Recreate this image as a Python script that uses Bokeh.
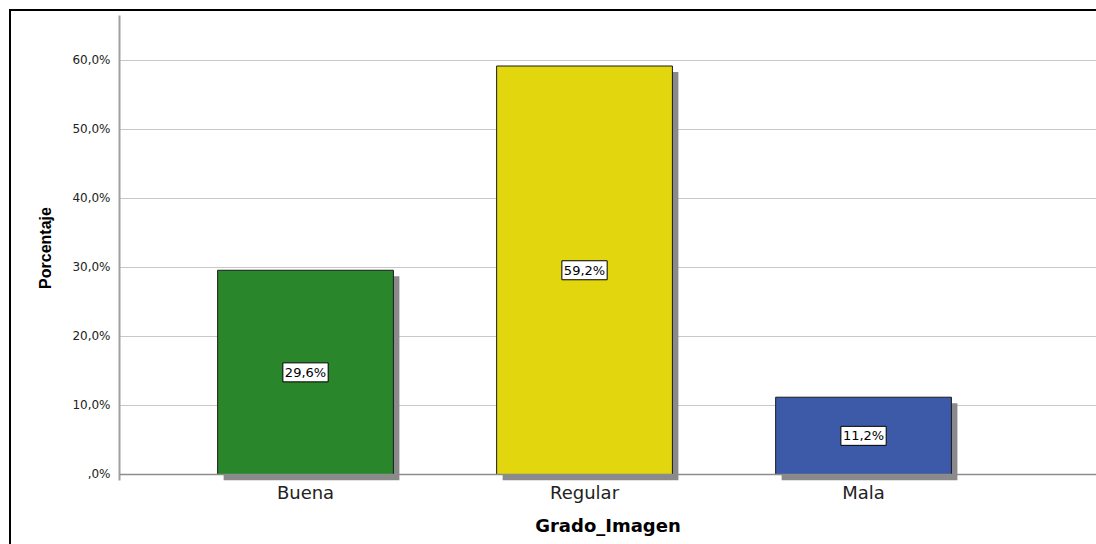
from bokeh.plotting import figure
from bokeh.models import Range1d, FixedTicker, ColumnDataSource, Span
from bokeh.core.properties import value
from bokeh.embed import file_html
from bokeh.resources import INLINE

categories = ["Buena", "Regular", "Mala"]
percentages = [29.6, 59.2, 11.2]
colors = ["#2a862a", "#e2d70e", "#3c5aa8"]
label_texts = ["29,6%", "59,2%", "11,2%"]
y_ticks = [0, 10, 20, 30, 40, 50, 60]
y_tick_labels = [",0%", "10,0%", "20,0%", "30,0%", "40,0%", "50,0%", "60,0%"]

idx = list(range(1, len(categories) + 1))
dx = 0.0215
dy = 0.87

src = ColumnDataSource(dict(
    x=idx,
    top=percentages,
    color=colors,
    xs=[i + dx for i in idx],
    stop=[v - dy for v in percentages],
    mid=[v / 2 for v in percentages],
    txt=label_texts,
))

p = figure(width=1096, height=544, output_backend="svg", toolbar_location=None,
           x_range=Range1d(0.3333, 3.835), y_range=Range1d(-dy, 66.52),
           min_border_left=119, min_border_top=15, min_border_right=0, min_border_bottom=64)
p.border_fill_color = None
p.background_fill_color = None
p.outline_line_color = None
p.styles = {
    "background-image": "linear-gradient(#000000, #000000), linear-gradient(#000000, #000000)",
    "background-size": "2px 100%, 100% 2px",
    "background-position": "9px 9px, 9px 9px",
    "background-repeat": "no-repeat",
}

# shadows
p.vbar(x="xs", top="stop", bottom=-dy, width=0.63, source=src,
       fill_color="#8a8a8a", line_color=None)
# bars
p.vbar(x="x", top="top", bottom=0, width=0.63, source=src,
       fill_color="color", line_color="#1a1a1a", line_width=1)

p.add_layout(Span(location=0, dimension="width", line_color="#8c8c8c", line_width=1.5))

p.text(x="x", y="mid", text="txt", source=src, text_align="center",
       text_baseline="middle", text_font_size="13px",
       text_font=value("DejaVu Sans"), text_color="#000000",
       background_fill_color="white", border_line_color="#000000",
       border_line_width=1, padding=2)

p.xgrid.grid_line_color = None
p.ygrid.grid_line_color = "#c8c8c8"
p.ygrid.ticker = FixedTicker(ticks=y_ticks[1:])

p.yaxis.ticker = FixedTicker(ticks=y_ticks)
p.yaxis.major_label_overrides = {t: l for t, l in zip(y_ticks, y_tick_labels)}
p.yaxis.axis_line_color = "#a0a0a0"
p.yaxis.axis_line_width = 2
p.yaxis.major_tick_line_color = None
p.yaxis.minor_tick_line_color = None
p.yaxis.major_label_text_font = "DejaVu Sans"
p.yaxis.major_label_text_font_size = "12px"
p.yaxis.major_label_text_color = "#222222"
p.yaxis.major_label_standoff = 3
p.yaxis.axis_label = "Porcentaje"
p.yaxis.axis_label_text_font = "Liberation Sans"
p.yaxis.axis_label_text_font_style = "bold"
p.yaxis.axis_label_text_font_size = "16px"
p.yaxis.axis_label_text_color = "#000000"
p.yaxis.axis_label_standoff = 15

p.xaxis.ticker = FixedTicker(ticks=idx)
p.xaxis.major_label_overrides = {i: c for i, c in zip(idx, categories)}
p.xaxis.axis_line_color = None
p.xaxis.major_tick_line_color = None
p.xaxis.minor_tick_line_color = None
p.xaxis.major_label_text_font = "DejaVu Sans"
p.xaxis.major_label_text_font_size = "18px"
p.xaxis.major_label_text_color = "#222222"
p.xaxis.major_label_standoff = -5
p.xaxis.axis_label = "Grado_Imagen"
p.xaxis.axis_label_text_font = "DejaVu Sans"
p.xaxis.axis_label_text_font_style = "bold"
p.xaxis.axis_label_text_font_size = "18px"
p.xaxis.axis_label_text_color = "#000000"
p.xaxis.axis_label_standoff = 9

open("out.html", "w").write(file_html(p, INLINE))
